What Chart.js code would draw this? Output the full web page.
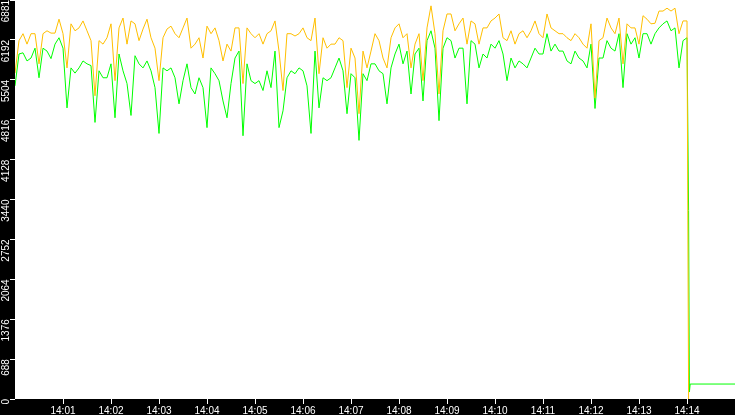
<!DOCTYPE html>
<html>
<head>
<meta charset="utf-8">
<script src="https://cdn.jsdelivr.net/npm/chart.js@4.4.1/dist/chart.umd.min.js"></script>
<style>
  html, body { margin: 0; padding: 0; background: #000; overflow: hidden; }
  canvas { display: block; }
</style>
</head>
<body>
<canvas id="traffic" width="735" height="415"></canvas>
<script>
// one sample every 5 seconds starting at 14:00:00
const stepSeconds = 5;

const yellowValues = [
  5620, 6180, 6300, 6120, 6300, 6300, 5780, 6300, 6350, 6310,
  6310, 6550, 6300, 5710, 6470, 6350, 6400, 6520, 6350, 6180,
  5230, 6180, 6120, 6230, 6470, 5490, 6400, 6570, 6120, 6520,
  6470, 6180, 6380, 6550, 6230, 6050, 5490, 6230, 6380, 6430,
  6300, 6230, 6400, 6570, 6050, 6120, 6230, 5880, 6430, 6300,
  6400, 6180, 5830, 6120, 6000, 6400, 6400, 5440, 6400, 6300,
  6230, 6300, 6120, 6300, 6350, 6520, 6000, 5320, 6300, 6300,
  6260, 6300, 6400, 6230, 6180, 6570, 5610, 6230, 6050, 6120,
  6120, 6230, 6180, 5370, 6050, 5880, 4920, 6000, 5710, 6000,
  6300, 6180, 5880, 5710, 6230, 6400, 6470, 6230, 6300, 5710,
  6120, 6300, 5490, 6400, 6780, 6300, 5260, 6350, 6640, 6640,
  6350, 6470, 6570, 6120, 6520, 6470, 6120, 6400, 6400, 6520,
  6570, 6640, 6230, 6180, 6350, 6120, 6300, 6350, 6230, 6350,
  6520, 6300, 6230, 6640, 6400, 6350, 6300, 6300, 6230, 6180,
  6300, 6230, 6120, 6050, 6470, 5190, 6180, 6230, 6570, 6400,
  6300, 6570, 5780, 6470, 6400, 6400, 6120, 6610, 6550, 6470,
  6480, 6690, 6690, 6740, 6690, 6740, 6300, 6520, 6520
];

const greenValues = [
  5400, 5950, 5970, 5830, 5880, 6050, 5540, 6050, 6000, 5870,
  6120, 6230, 6050, 5020, 5710, 5620, 5710, 5830, 5780, 5750,
  4770, 5660, 5540, 5540, 5780, 4850, 5950, 5660, 5440, 4890,
  5920, 5780, 5710, 5830, 5660, 5370, 4580, 5710, 5660, 5710,
  5540, 5090, 5490, 5780, 5370, 5260, 5540, 5370, 4680, 5710,
  5610, 5490, 5140, 4850, 5440, 5880, 6000, 4540, 5780, 5490,
  5440, 5490, 5320, 5660, 5370, 6000, 4680, 4970, 5540, 5660,
  5610, 5710, 5660, 5400, 4580, 6000, 5020, 5540, 5490, 5540,
  5710, 5880, 5660, 4920, 5610, 5540, 4460, 5610, 5490, 5780,
  5780, 5660, 5610, 5090, 5710, 5950, 6120, 5780, 6000, 5260,
  5950, 6050, 5140, 6180, 6350, 6050, 4800, 6050, 6230, 6180,
  5880, 6050, 6050, 5090, 6180, 6120, 5710, 5950, 5880, 6120,
  6050, 6180, 5950, 5490, 5880, 5710, 5830, 5780, 5710, 5880,
  6050, 5950, 5950, 6300, 6000, 6120, 6000, 6000, 5830, 5780,
  6000, 5880, 5830, 5710, 6120, 5010, 5880, 5880, 6180, 6050,
  6000, 6300, 5370, 6300, 6120, 6230, 5880, 6300, 6300, 6120,
  6300, 6400, 6470, 6520, 6350, 6400, 5710, 6180, 6230
];

// the drop at the end of the run (seconds after 14:00)
const tailSeconds = [842, 843, 844, 900];
const yellowTail = [0, null, null, null];
const greenTail = [3250, 120, 258, 258];

const yTicks = [0, 688, 1376, 2064, 2752, 3440, 4128, 4816, 5504, 6192, 6881];
const xTicks = [60, 120, 180, 240, 300, 360, 420, 480, 540, 600, 660, 720, 780, 840];
const xTickLabels = ["14:01", "14:02", "14:03", "14:04", "14:05", "14:06", "14:07",
  "14:08", "14:09", "14:10", "14:11", "14:12", "14:13", "14:14"];

function toPoints(values, tail) {
  const pts = values.map((v, i) => ({ x: i * stepSeconds, y: v }));
  tail.forEach((v, k) => {
    if (v !== null) pts.push({ x: tailSeconds[k], y: v });
  });
  return pts;
}

// white plot area on the black page
const whitePlot = {
  id: "whitePlot",
  beforeDraw(chart) {
    const { ctx, chartArea: a } = chart;
    ctx.save();
    ctx.fillStyle = "#ffffff";
    ctx.fillRect(a.left, a.top, a.right - a.left, a.bottom - a.top);
    ctx.restore();
  },
};

const tickFont = { family: "Liberation Sans", size: 10 };

function noPadding(s) {
  s.paddingTop = 0;
  s.paddingBottom = 0;
  s.paddingLeft = 0;
  s.paddingRight = 0;
}

new Chart(document.getElementById("traffic"), {
  type: "line",
  data: {
    datasets: [
      {
        label: "peak",
        data: toPoints(yellowValues, yellowTail),
        borderColor: "#ffbf00",
        borderWidth: 1,
        pointRadius: 0,
        tension: 0,
      },
      {
        label: "average",
        data: toPoints(greenValues, greenTail),
        borderColor: "#00ff00",
        borderWidth: 1,
        pointRadius: 0,
        tension: 0,
      },
    ],
  },
  options: {
    responsive: false,
    animation: false,
    layout: { padding: 0, autoPadding: false },
    plugins: {
      legend: { display: false },
      tooltip: { enabled: false },
    },
    scales: {
      x: {
        type: "linear",
        min: 0,
        max: 900,
        afterBuildTicks: (s) => { s.ticks = xTicks.map((v) => ({ value: v })); },
        afterFit: (s) => { s.height = 16; noPadding(s); },
        border: { display: false },
        grid: { drawOnChartArea: false, tickLength: 5, color: "#ffffff" },
        ticks: {
          color: "#ffffff",
          font: tickFont,
          padding: 1,
          maxRotation: 0,
          autoSkip: false,
          callback: (v) => xTickLabels[xTicks.indexOf(v)],
        },
      },
      y: {
        min: 0,
        max: 6881,
        afterBuildTicks: (s) => { s.ticks = yTicks.map((v) => ({ value: v })); },
        afterFit: (s) => { s.width = 15; noPadding(s); },
        border: { display: false },
        grid: { drawOnChartArea: false, tickLength: 5, color: "#ffffff" },
        ticks: {
          color: "#ffffff",
          font: tickFont,
          padding: 4,
          minRotation: 90,
          maxRotation: 90,
          autoSkip: false,
          callback: (v) => String(v),
        },
      },
    },
  },
  plugins: [whitePlot],
});
</script>
</body>
</html>
